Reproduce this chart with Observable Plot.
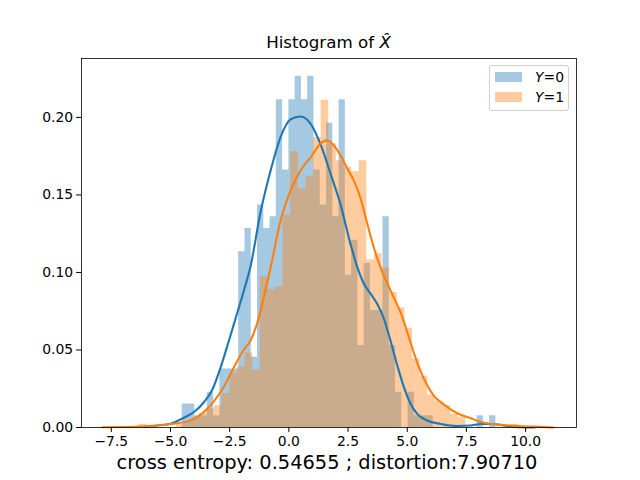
<!DOCTYPE html>
<html><head><meta charset="utf-8">
<script src="https://cdn.jsdelivr.net/npm/d3@7"></script>
<script src="https://cdn.jsdelivr.net/npm/@observablehq/plot@0.6"></script>
<style>
body{margin:0;background:#fff;}
#wrap{position:relative;width:640px;height:480px;font-family:"DejaVu Sans",sans-serif;color:#000;}
#title{position:absolute;left:81px;width:495px;top:32px;height:20px;line-height:20px;text-align:center;font-size:16.7px;}
#legend{position:absolute;left:489px;top:65px;width:78px;height:44px;border:1px solid rgba(204,204,204,0.9);border-radius:3px;background:rgba(255,255,255,0.8);font-size:13.9px;}
.patch{position:absolute;left:5px;width:27px;height:10px;}
.lab{position:absolute;left:45px;height:16px;line-height:16px;white-space:nowrap;}
</style></head><body><div id="wrap"></div>
<script>
// ---- data ----
const seriesNames = ["Y=0", "Y=1"];
const xTicks = [-7.5, -5.0, -2.5, 0.0, 2.5, 5.0, 7.5, 10.0];
const yTicks = [0.00, 0.05, 0.10, 0.15, 0.20];

// Y=0 histogram (density), 50 bins
const blueBinStart = -4.505;
const blueBinWidth = 0.265;
const blueDensity = [
  0.0151, 0.0151, 0.0076, 0.0076, 0.0227, 0.0076, 0.0378, 0.0378, 0.0378, 0.1133,
  0.1284, 0.0453, 0.1435, 0.1284, 0.1359, 0.2114, 0.1661, 0.2114, 0.2265, 0.2114,
  0.2265, 0.1661, 0.1435, 0.1963, 0.1359, 0.2114, 0.0982, 0.1208, 0.0529, 0.1057,
  0.0755, 0.0755, 0.1359, 0.0529, 0.0227, 0.0000, 0.0227, 0.0076, 0.0076, 0.0076,
  0, 0, 0, 0, 0, 0, 0, 0.0076, 0, 0.0076
];

// Y=1 histogram (density), 50 bins
const orangeBinStart = -6.353;
const orangeBinWidth = 0.3215;
const orangeDensity = [
  0.002, 0, 0, 0, 0, 0.002, 0.004, 0.006, 0.009, 0.012,
  0.014, 0.022, 0.035, 0.039, 0.048, 0.037, 0.097, 0.089, 0.091, 0.137,
  0.178, 0.154, 0.162, 0.187, 0.211, 0.183, 0.172, 0.168, 0.165, 0.172,
  0.108, 0.112, 0.103, 0.087, 0.077, 0.064, 0.044, 0.033, 0.021, 0.017,
  0.014, 0.0085, 0.0067, 0, 0, 0, 0, 0, 0, 0.002
];

// KDE curves
const blueKdeX = [-6.09,-5.56,-5.00,-4.49,-3.98,-3.59,-3.23,-2.88,-2.53,-2.18,-1.90,-1.62,-1.20,-0.77,-0.35,0.07,0.49,0.92,1.34,1.76,2.18,2.60,2.89,3.17,3.45,3.73,4.01,4.29,4.58,4.86,5.14,5.42,5.84,6.41,7.11,7.67,8.10,8.52,8.94,9.36,9.79,10.38];
const blueKdeY = [0.0003,0.0013,0.0024,0.0059,0.0103,0.0163,0.0245,0.0389,0.0561,0.0739,0.0884,0.1039,0.1387,0.1658,0.1873,0.1987,0.2006,0.1959,0.1826,0.1637,0.1439,0.1185,0.1034,0.0927,0.0863,0.0798,0.0703,0.0561,0.0400,0.0260,0.0153,0.0088,0.0045,0.0023,0.0010,0.0013,0.0023,0.0023,0.0017,0.0006,0.0002,0.0];
const orangeKdeX = [-7.88,-7.11,-6.27,-5.56,-4.86,-4.15,-3.59,-3.17,-2.74,-2.32,-1.90,-1.62,-1.33,-1.06,-0.77,-0.35,0.07,0.49,0.92,1.34,1.59,1.90,2.18,2.47,2.74,3.03,3.31,3.59,3.87,4.16,4.43,4.72,5.14,5.42,5.70,6.12,6.55,7.11,7.67,8.10,8.52,8.94,9.36,9.79,10.21,10.63,11.18];
const orangeKdeY = [0.0002,0.0003,0.0006,0.0013,0.0024,0.0046,0.0099,0.0168,0.0265,0.0389,0.0503,0.0561,0.0677,0.0839,0.1032,0.1335,0.1529,0.1658,0.1742,0.1832,0.1852,0.1819,0.1755,0.1671,0.1594,0.1477,0.1316,0.1161,0.1032,0.0929,0.0839,0.0742,0.0548,0.0419,0.0316,0.0206,0.0148,0.0092,0.0061,0.0035,0.0024,0.0017,0.0013,0.0008,0.0006,0.0004,0.0];

const captionText = "cross entropy: 0.54655 ; distortion:7.90710";
const colors = ["#1f77b4", "#ff7f0e"];

// ---- build tables ----
function steps(start, width, dens) {
  const pts = dens.map((d, i) => ({x: start + i * width, y: d}));
  pts.push({x: start + dens.length * width, y: 0});
  return pts;
}
const blueSteps = steps(blueBinStart, blueBinWidth, blueDensity);
const orangeSteps = steps(orangeBinStart, orangeBinWidth, orangeDensity);
const blueKde = blueKdeX.map((x, i) => ({x, y: blueKdeY[i]}));
const orangeKde = orangeKdeX.map((x, i) => ({x, y: orangeKdeY[i]}));

const chart = Plot.plot({
  width: 640, height: 480,
  marginLeft: 81, marginRight: 64, marginTop: 58, marginBottom: 53,
  style: {fontFamily: "DejaVu Sans", fontSize: "13.9px", background: "white", color: "black", overflow: "visible"},
  x: {domain: [-8.76, 12.15]},
  y: {domain: [0, 0.238]},
  marks: [
    Plot.areaY(blueSteps, {x: "x", y: "y", curve: "step-after", fill: colors[0], fillOpacity: 0.4}),
    Plot.areaY(orangeSteps, {x: "x", y: "y", curve: "step-after", fill: colors[1], fillOpacity: 0.4}),
    Plot.line(blueKde, {x: "x", y: "y", curve: "monotone-x", stroke: colors[0], strokeWidth: 2.1}),
    Plot.line(orangeKde, {x: "x", y: "y", curve: "monotone-x", stroke: colors[1], strokeWidth: 2.1}),
    Plot.frame({stroke: "black", strokeWidth: 0.8}),
    Plot.axisX({ticks: xTicks, tickFormat: d3.format(".1f"), tickSize: 4.9, tickPadding: 3.5, label: null, fontSize: 13.9}),
    Plot.axisY({ticks: yTicks, tickFormat: d3.format(".2f"), tickSize: 4.9, tickPadding: 3.5, label: null, fontSize: 13.9}),
    Plot.text([captionText], {frameAnchor: "bottom", text: d => d, dy: 41, dx: -2, fontSize: 19.4, fill: "black"})
  ]
});

const wrap = document.getElementById("wrap");
wrap.appendChild(chart);

const title = document.createElement("div");
title.id = "title";
title.innerHTML = "Histogram of <span style=\"font-style:italic\">X&#770;</span>";
wrap.appendChild(title);

const legend = document.createElement("div");
legend.id = "legend";
seriesNames.forEach((name, i) => {
  const p = document.createElement("div");
  p.className = "patch";
  p.style.top = (6 + i * 20) + "px";
  p.style.background = colors[i];
  p.style.opacity = 0.4;
  legend.appendChild(p);
  const t = document.createElement("div");
  t.className = "lab";
  t.style.top = (3 + i * 20) + "px";
  const [a, b] = name.split("=");
  t.innerHTML = "<i>" + a + "</i>=" + b;
  legend.appendChild(t);
});
wrap.appendChild(legend);
</script>
</body></html>
